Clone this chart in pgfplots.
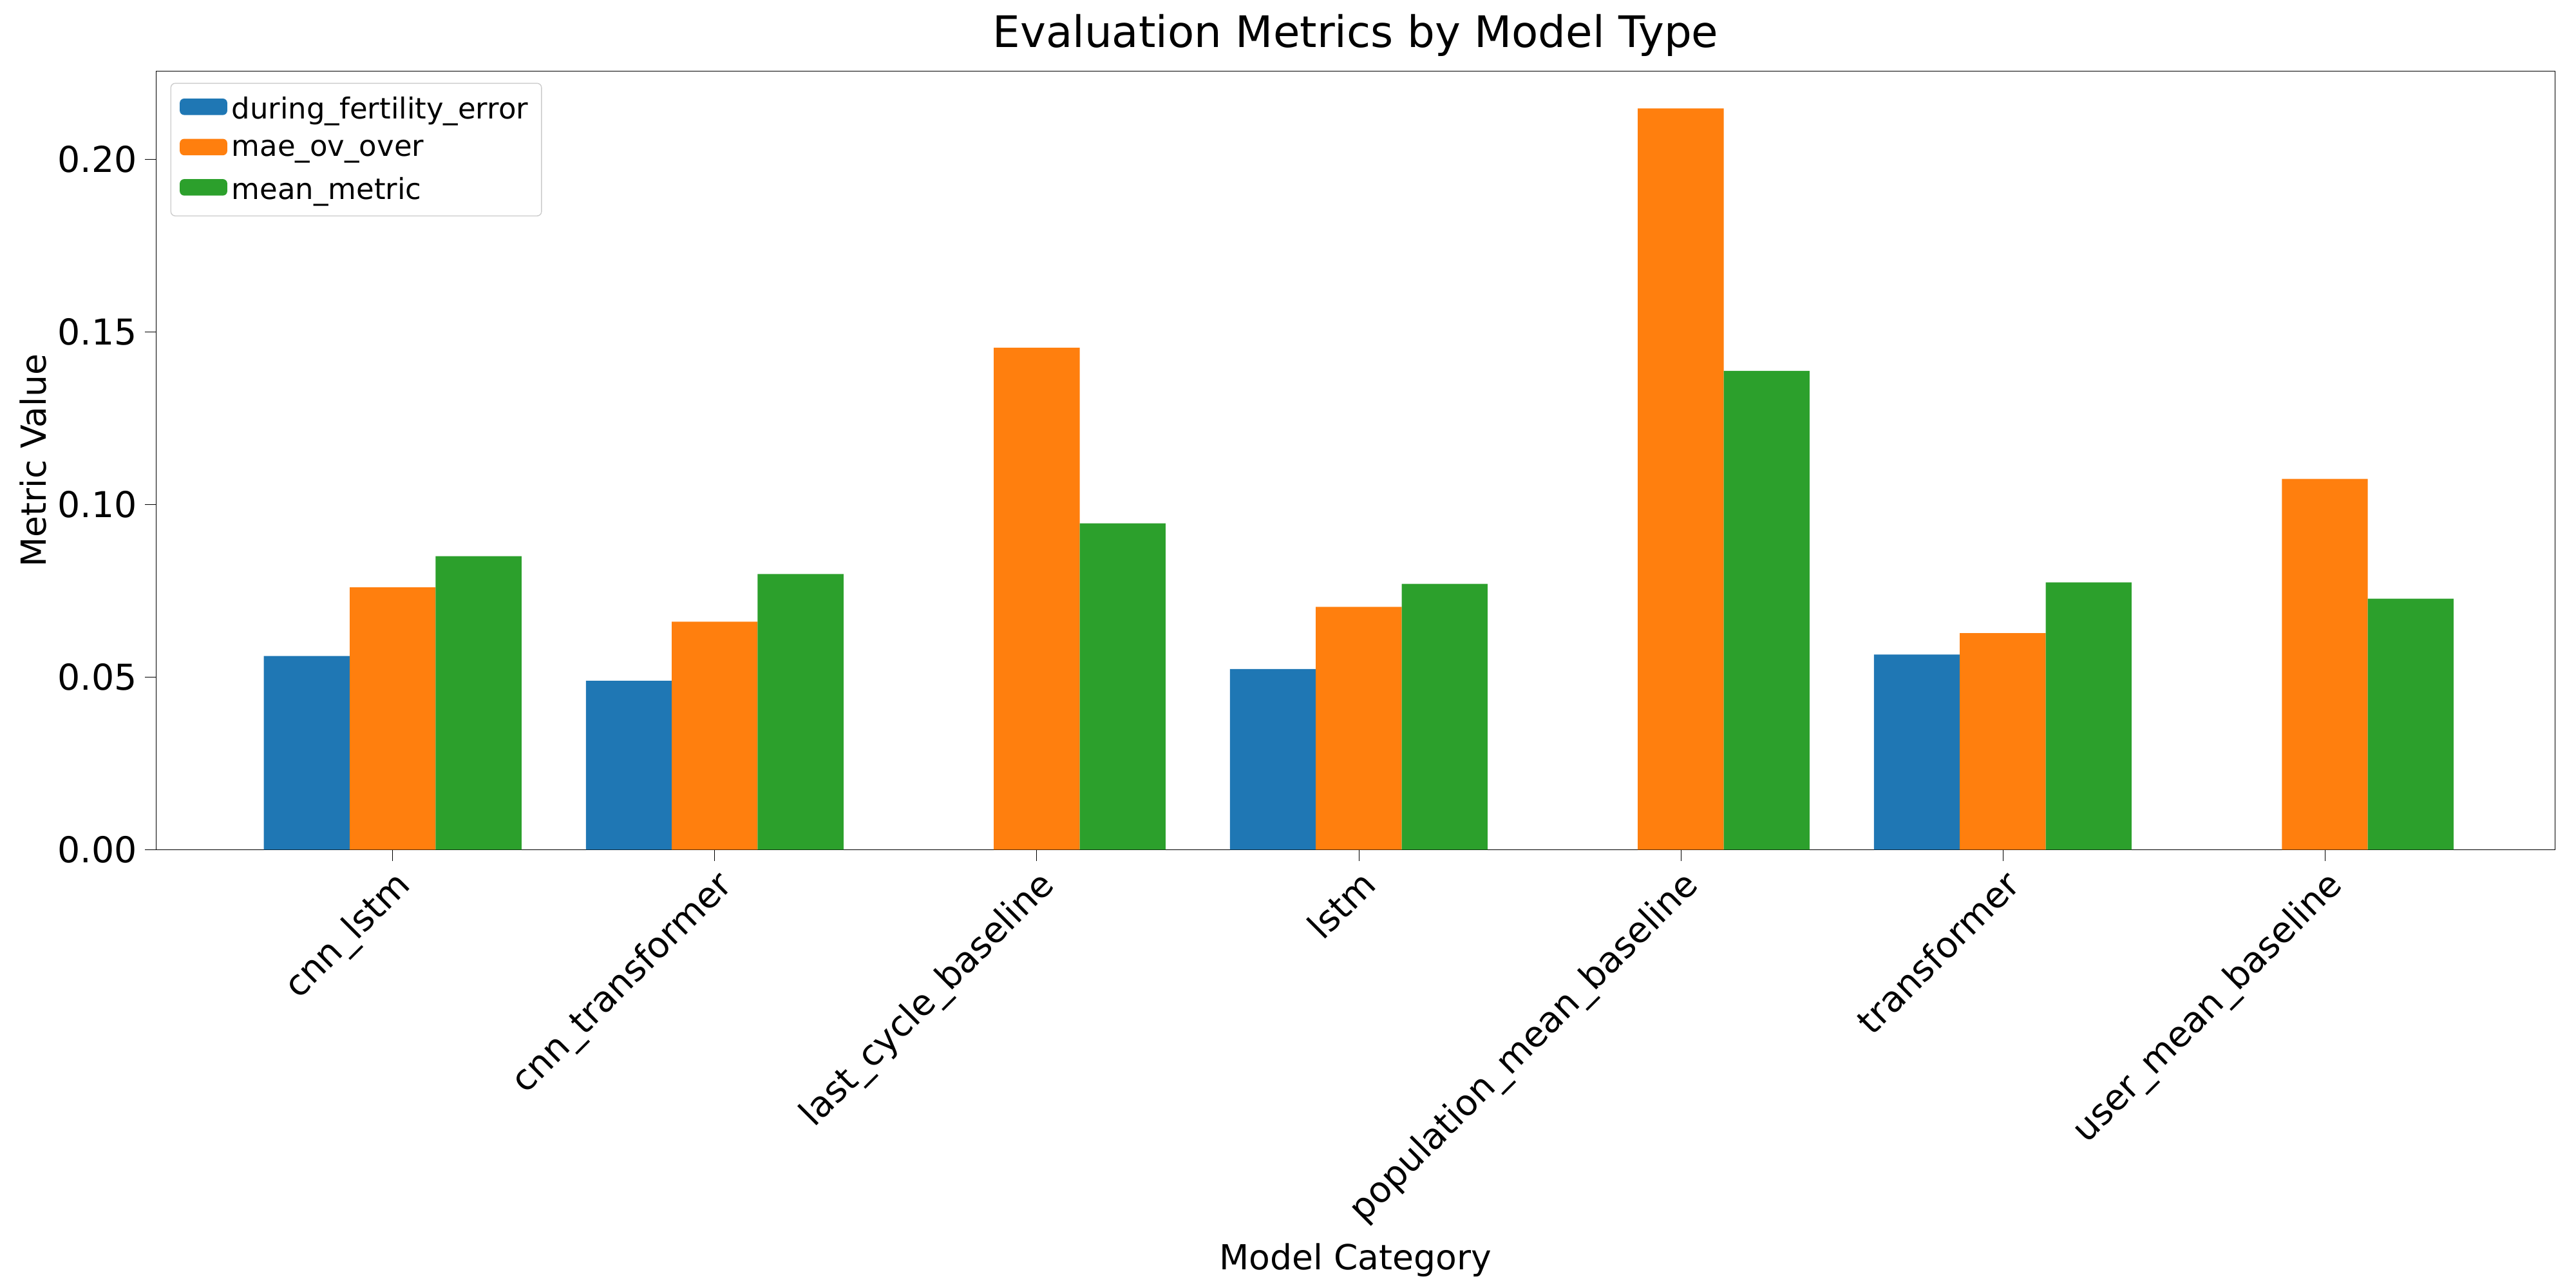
\documentclass[border=0pt]{standalone}
\usepackage{pgfplots}
\pgfplotsset{compat=1.18}
\usepackage{fontspec}
\setmainfont{DejaVu Sans}
\definecolor{c0}{HTML}{1F77B4}
\definecolor{c1}{HTML}{FF7F0E}
\definecolor{c2}{HTML}{2CA02C}
\begin{document}
\begin{tikzpicture}
\useasboundingbox (-0.969in,-2.723in) rectangle (15.031in,5.277in);
\begin{axis}[
  at={(0,0)}, anchor=south west, scale only axis,
  width=14.9in, height=4.835in,
  xmin=-0.735, xmax=6.715, ymin=0, ymax=0.2255,
  ybar, bar width=0.2667,
  axis line style={black},
  xtick={0,...,6},
  xticklabels={cnn\_lstm,cnn\_transformer,last\_cycle\_baseline,lstm,population\_mean\_baseline,transformer,user\_mean\_baseline},
  xticklabel style={rotate=45, anchor=north east, inner sep=2pt, font=\fontsize{16}{18}\selectfont},
  ytick={0,0.05,0.1,0.15,0.2},
  yticklabel style={font=\fontsize{16}{18}\selectfont, /pgf/number format/fixed, /pgf/number format/precision=2, /pgf/number format/fixed zerofill},
  /pgf/number format/assume math mode=true,
  scaled y ticks=false,
  tick align=outside, major tick length=5pt, tick style={black},
  xtick pos=bottom, ytick pos=left,
  title={Evaluation Metrics by Model Type},
  title style={font=\fontsize{19.5}{22}\selectfont, yshift=-3pt},
  xlabel={Model Category}, ylabel={Metric Value},
  label style={font=\fontsize{15.5}{18}\selectfont},
  ylabel style={yshift=-2pt},
  legend cell align=left,
  legend style={at={(0.006,0.985)}, anchor=north west, font=\fontsize{13}{15}\selectfont, draw=black!20, rounded corners=2pt, row sep=4pt, inner sep=4pt},
  legend image code/.code={\fill[#1] (0cm,-0.09cm) rectangle (0.75cm,0.17cm);},
]
\addplot[fill=c0, draw=none, bar shift=-0.2667] coordinates {(0,0.0561) (1,0.0489) (3,0.0523) (5,0.0565)};
\addplot[fill=c1, draw=none, bar shift=0] coordinates {(0,0.0760) (1,0.0660) (2,0.1454) (3,0.0703) (4,0.2147) (5,0.0627) (6,0.1074)};
\addplot[fill=c2, draw=none, bar shift=0.2667] coordinates {(0,0.0850) (1,0.0798) (2,0.0945) (3,0.0770) (4,0.1387) (5,0.0774) (6,0.0727)};
\legend{during\_fertility\_error,mae\_ov\_over,mean\_metric}
\end{axis}
\end{tikzpicture}
\end{document}
